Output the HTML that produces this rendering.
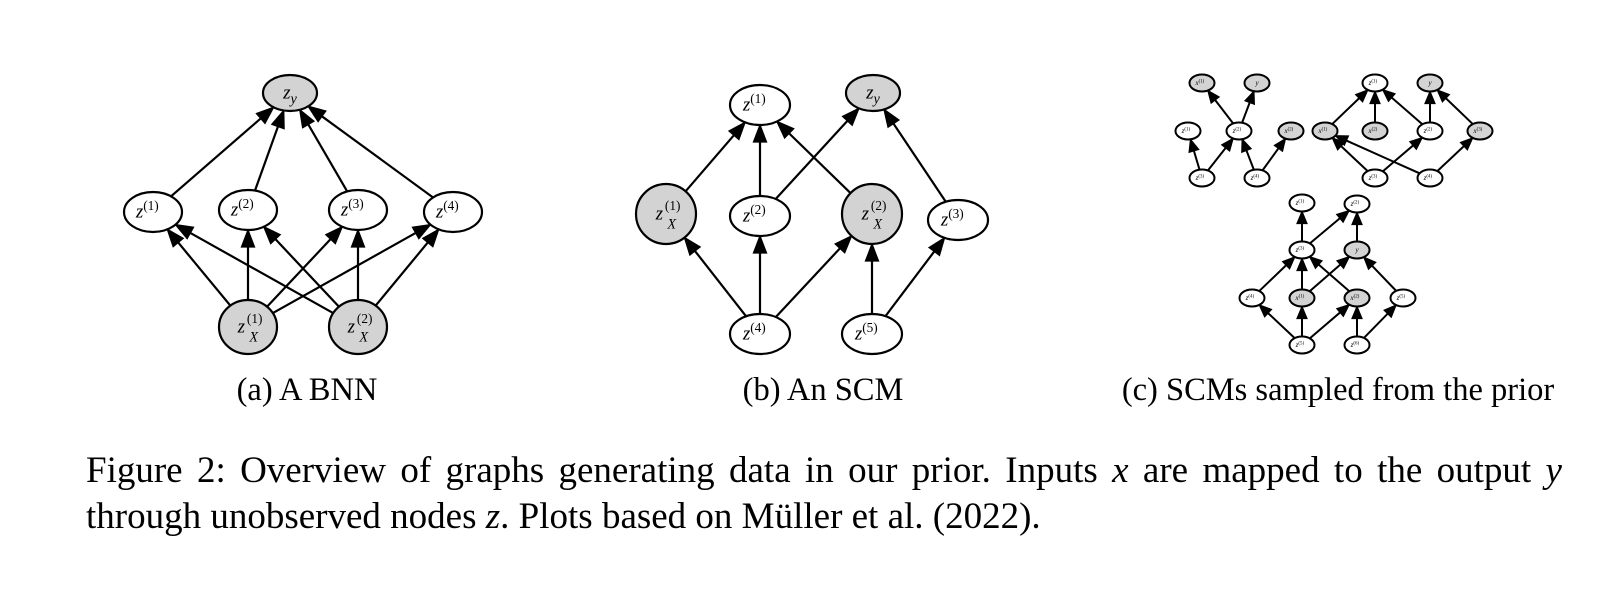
<!DOCTYPE html>
<html><head><meta charset="utf-8"><style>
body{margin:0;background:#fff;width:1624px;height:602px;overflow:hidden;font-family:"Liberation Serif",serif}
svg{position:absolute;left:0;top:0}
.cl{position:absolute;left:86px;width:1476px;font-size:37px;line-height:46px;color:#000;white-space:nowrap}
#cap1{top:448px;text-align:justify;text-align-last:justify;white-space:normal}
#cap2{top:494px}
</style></head><body>
<svg id="fig" width="1624" height="602"></svg>
<div id="cap1" class="cl">Figure 2: Overview of graphs generating data in our prior. Inputs <i>x</i> are mapped to the output <i>y</i></div>
<div id="cap2" class="cl">through unobserved nodes <i>z</i>. Plots based on Müller et al. (2022).</div>
<script>
const NS="http://www.w3.org/2000/svg";
const svg=document.getElementById('fig');
const nodesA=[["zy",290,93,27,18,1,"z","","y"],["a1",153,212,29,20,0,"z","(1)",""],["a2",248,210,29,20,0,"z","(2)",""],["a3",358,210,29,20,0,"z","(3)",""],["a4",453,212,29,20,0,"z","(4)",""],["x1",248,327,29,27,1,"z","(1)","X"],["x2",358,327,29,27,1,"z","(2)","X"]];
const edgesA=[["a1","zy"],["a2","zy"],["a3","zy"],["a4","zy"],["x1","a1"],["x1","a2"],["x1","a3"],["x1","a4"],["x2","a1"],["x2","a2"],["x2","a3"],["x2","a4"]];
const nodesB=[["b1",760,105,30,20,0,"z","(1)",""],["by",873,93,27,18,1,"z","","y"],["bx1",666,214,30,30,1,"z","(1)","X"],["b2",760,216,30,20,0,"z","(2)",""],["bx2",872,214,30,30,1,"z","(2)","X"],["b3",958,220,30,20,0,"z","(3)",""],["b4",760,334,30,20,0,"z","(4)",""],["b5",872,334,30,20,0,"z","(5)",""]];
const edgesB=[["bx1","b1"],["b2","b1"],["bx2","b1"],["b2","by"],["b3","by"],["b4","bx1"],["b4","b2"],["b4","bx2"],["b5","bx2"],["b5","b3"]];
const R=12.5,RY=8.5;
const nodesC=[["c1x1",1202,83,R,RY,1,"x","(1)",""],["c1y",1257,83,R,RY,1,"y","",""],["c1z1",1188,131,R,RY,0,"z","(1)",""],["c1z2",1239,131,R,RY,0,"z","(2)",""],["c1x2",1291,131,R,RY,1,"x","(2)",""],["c1z3",1202,178,R,RY,0,"z","(3)",""],["c1z4",1257,178,R,RY,0,"z","(4)",""],
["c2z1",1375,83,R,RY,0,"z","(1)",""],["c2y",1430,83,R,RY,1,"y","",""],["c2x1",1325,131,R,RY,1,"x","(1)",""],["c2x2",1375,131,R,RY,1,"x","(2)",""],["c2z2",1430,131,R,RY,0,"z","(2)",""],["c2x3",1480,131,R,RY,1,"x","(3)",""],["c2z3",1375,178,R,RY,0,"z","(3)",""],["c2z4",1430,178,R,RY,0,"z","(4)",""],
["c3z1",1302,203,R,RY,0,"z","(1)",""],["c3z2",1357,204,R,RY,0,"z","(2)",""],["c3z3",1302,250,R,RY,0,"z","(3)",""],["c3y",1357,250,R,RY,1,"y","",""],["c3z4",1252,298,R,RY,0,"z","(4)",""],["c3x1",1302,298,R,RY,1,"x","(1)",""],["c3x2",1357,298,R,RY,1,"x","(2)",""],["c3z5",1403,298,R,RY,0,"z","(5)",""],["c3b1",1302,345,R,RY,0,"z","(5)",""],["c3b2",1357,345,R,RY,0,"z","(6)",""]];
const edgesC=[["c1z2","c1x1"],["c1z2","c1y"],["c1z3","c1z1"],["c1z3","c1z2"],["c1z4","c1z2"],["c1z4","c1x2"],
["c2x1","c2z1"],["c2x2","c2z1"],["c2z2","c2z1"],["c2z2","c2y"],["c2x3","c2y"],["c2z3","c2x1"],["c2z4","c2x1"],["c2z3","c2z2"],["c2z4","c2x3"],
["c3z3","c3z1"],["c3z3","c3z2"],["c3y","c3z2"],["c3z4","c3z3"],["c3x1","c3z3"],["c3x2","c3z3"],["c3x1","c3y"],["c3z5","c3y"],["c3b1","c3z4"],["c3b1","c3x1"],["c3b1","c3x2"],["c3b2","c3x2"],["c3b2","c3z5"]];
function mk(t,a,p){const e=document.createElementNS(NS,t);for(const k in a)e.setAttribute(k,a[k]);(p||svg).appendChild(e);return e;}
function draw(nodes,edges,sw,al,aw,fs,name){
 const g=mk('g',{});
 
 
 const M={};nodes.forEach(n=>M[n[0]]=n);
 edges.forEach(e=>{const A=M[e[0]],B=M[e[1]];
  let dx=B[1]-A[1],dy=B[2]-A[2];const L=Math.hypot(dx,dy);dx/=L;dy/=L;
  const tb=1/Math.hypot(dx/B[3],dy/B[4]),ta=1/Math.hypot(dx/A[3],dy/A[4]);
  const tx=B[1]-dx*tb,ty=B[2]-dy*tb,sx=A[1]+dx*ta,sy=A[2]+dy*ta;
  const bx=tx-dx*al,by=ty-dy*al;
  const l=mk('line',{x1:sx,y1:sy,x2:bx,y2:by,stroke:'#000','stroke-width':sw},g);
  
  
  const px=-dy*aw/2,py=dx*aw/2;
  const p=mk('polygon',{points:`${tx},${ty} ${bx+px},${by+py} ${bx-px},${by-py}`,fill:'#000',stroke:'#000','stroke-width':sw*0.6},g);
  
  
 });
 nodes.forEach(n=>{
  const e=mk('ellipse',{cx:n[1],cy:n[2],rx:n[3],ry:n[4],fill:n[5]?'#d3d3d3':'#fff',stroke:'#000','stroke-width':sw},g);
  
  
  const hasSup=n[7]!=='',hasSub=n[8]!=='';
  let off=hasSup&&hasSub?-fs*0.35:(hasSup?-fs*0.3:0);
  const t=mk('text',{x:n[1]+off,y:n[2]+fs*0.3,'font-family':'Liberation Serif, serif','font-size':fs,'font-style':'italic','text-anchor':'middle'},g);
  
  
  t.textContent=n[6];
  if(hasSub&&hasSup){
   mk('tspan',{x:n[1]+fs*0.35,dy:-fs*0.5,'font-size':fs*0.7,'font-style':'normal'},t).textContent=n[7];
   mk('tspan',{x:n[1]+fs*0.3,dy:fs*0.95,'font-size':fs*0.75},t).textContent=n[8];
  }else if(hasSup){
   mk('tspan',{dy:-fs*0.4,'font-size':fs*0.7,'font-style':'normal'},t).textContent=n[7];
  }else if(hasSub){
   mk('tspan',{dy:fs*0.25,'font-size':fs*0.75},t).textContent=n[8];
  }
 });
}
draw(nodesA,edgesA,2.2,17,13,19,'panel-a-bnn');
draw(nodesB,edgesB,2.2,17,13,19,'panel-b-scm');
draw(nodesC,edgesC,2,12,10,7,'panel-c-sampled-scms');
const caps=[["(a) A BNN",307],["(b) An SCM",823],["(c) SCMs sampled from the prior",1338]];
caps.forEach(c=>{const t=mk('text',{x:c[1],y:400,'font-family':'Liberation Serif, serif','font-size':32.5,'text-anchor':'middle'});
 
 
 t.textContent=c[0];});
</script>
</body></html>
